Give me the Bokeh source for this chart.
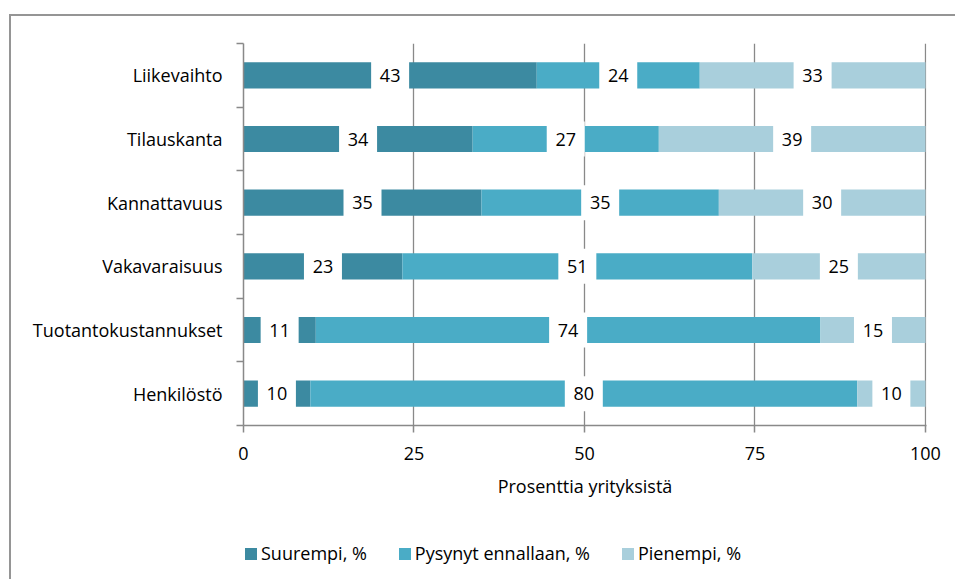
from bokeh.plotting import figure
from bokeh.layouts import column
from bokeh.models import Range1d, FixedTicker, ColumnDataSource, Legend, LegendItem
from bokeh.core.properties import value
from bokeh.embed import file_html
from bokeh.resources import INLINE

categories = ["Liikevaihto", "Tilauskanta", "Kannattavuus", "Vakavaraisuus",
              "Tuotantokustannukset", "Henkilöstö"]
suurempi = [43.0, 33.6, 34.9, 23.3, 10.6, 9.8]
pysynyt = [23.9, 27.3, 34.8, 51.3, 74.0, 80.2]
pienempi = [33.1, 39.1, 30.3, 25.4, 15.4, 10.0]
series_names = ["Suurempi, %", "Pysynyt ennallaan, %", "Pienempi, %"]
x_ticks = [0, 25, 50, 75, 100]
x_title = "Prosenttia yrityksistä"

colors = ["#3C8AA1", "#4AACC6", "#A9CFDC"]
FONT = "Open Sans"
FS = "18px"
GRAY = "#898989"
FRAME = "2px solid #959595"

n = len(categories)
ypos = [n - 0.5 - i for i in range(n)]

p = figure(width=946, height=504, output_backend="svg", toolbar_location=None,
           x_range=Range1d(0, 100.15), y_range=Range1d(0, n),
           min_border_left=232, min_border_right=31, min_border_top=27,
           min_border_bottom=95)
p.outline_line_color = None
p.background_fill_color = "white"
p.border_fill_color = "white"
p.styles = {"margin-left": "9px", "margin-top": "14px",
            "border-left": FRAME, "border-top": FRAME}

series = [suurempi, pysynyt, pienempi]
sources = []
left = [0.0] * n
for vals, col in zip(series, colors):
    right = [l + v for l, v in zip(left, vals)]
    src = ColumnDataSource(dict(y=ypos, left=left, right=right))
    sources.append(src)
    p.hbar(y="y", left="left", right="right", height=0.41, source=src,
           fill_color=col, line_color=None)
    left = right

# value labels in white boxes
left = [0.0] * n
lx, ly, lt = [], [], []
for vals in series:
    for i, v in enumerate(vals):
        lx.append(left[i] + v / 2)
        ly.append(ypos[i])
        lt.append(str(int(round(v))))
    left = [l + v for l, v in zip(left, vals)]
lsrc = ColumnDataSource(dict(x=lx, y=ly, t=lt))
p.rect(x="x", y="y", width=38, height=35, width_units="screen", height_units="screen",
       source=lsrc, fill_color="white", line_color=None)
p.text(x="x", y="y", text="t", source=lsrc, text_align="center", text_baseline="middle",
       text_font=value(FONT), text_font_size=FS, text_color="#000000")

# axes
xa = p.xaxis[0]
xa.ticker = FixedTicker(ticks=x_ticks)
xa.axis_line_color = GRAY
xa.axis_line_width = 1.5
xa.major_tick_line_color = GRAY
xa.major_tick_line_width = 1.5
xa.major_tick_out = 7
xa.major_tick_in = 0
xa.minor_tick_line_color = None
xa.major_label_text_font = FONT
xa.major_label_text_font_size = FS
xa.major_label_text_color = "#000000"
xa.major_label_standoff = 14
xa.axis_label = x_title
xa.axis_label_text_font = FONT
xa.axis_label_text_font_size = FS
xa.axis_label_text_font_style = "normal"
xa.axis_label_text_color = "#000000"
xa.axis_label_standoff = 11

ya = p.yaxis[0]
ya.ticker = FixedTicker(ticks=ypos, minor_ticks=list(range(n + 1)))
ya.major_label_overrides = {y: c for y, c in zip(ypos, categories)}
ya.axis_line_color = GRAY
ya.axis_line_width = 1.5
ya.major_tick_line_color = None
ya.major_tick_out = 0
ya.major_tick_in = 0
ya.minor_tick_line_color = GRAY
ya.minor_tick_line_width = 1.5
ya.minor_tick_out = 7
ya.minor_tick_in = 0
ya.major_label_text_font = FONT
ya.major_label_text_font_size = FS
ya.major_label_text_color = "#000000"
ya.major_label_standoff = 14

p.xgrid.ticker = FixedTicker(ticks=x_ticks)
p.xgrid.grid_line_color = GRAY
p.xgrid.grid_line_width = 1.3
p.ygrid.grid_line_color = None

# legend strip below the chart (its bars lie outside its visible y range)
pl = figure(width=946, height=61, output_backend="svg", toolbar_location=None,
            x_range=Range1d(0, 100), y_range=Range1d(n + 1, n + 2),
            min_border_left=0, min_border_right=0, min_border_top=0, min_border_bottom=0)
pl.axis.visible = False
pl.grid.grid_line_color = None
pl.outline_line_color = None
pl.background_fill_color = "white"
pl.border_fill_color = "white"
pl.styles = {"margin-left": "9px", "border-left": FRAME}
leg_renderers = []
for src, col in zip(sources, colors):
    leg_renderers.append(pl.hbar(y="y", left="left", right="right", height=0.41, source=src,
                                 fill_color=col, line_color=None))
legend = Legend(items=[LegendItem(label=nm, renderers=[r]) for nm, r in zip(series_names, leg_renderers)],
                orientation="horizontal", location=(0, 14),
                glyph_width=15, glyph_height=15, label_standoff=3, spacing=30,
                padding=0, margin=0, border_line_color=None, background_fill_alpha=0,
                label_text_font=FONT, label_text_font_size=FS, label_text_color="#000000")
pl.add_layout(legend, "center")

layout = column(p, pl, spacing=0)
open("out.html", "w").write(file_html(layout, INLINE))
